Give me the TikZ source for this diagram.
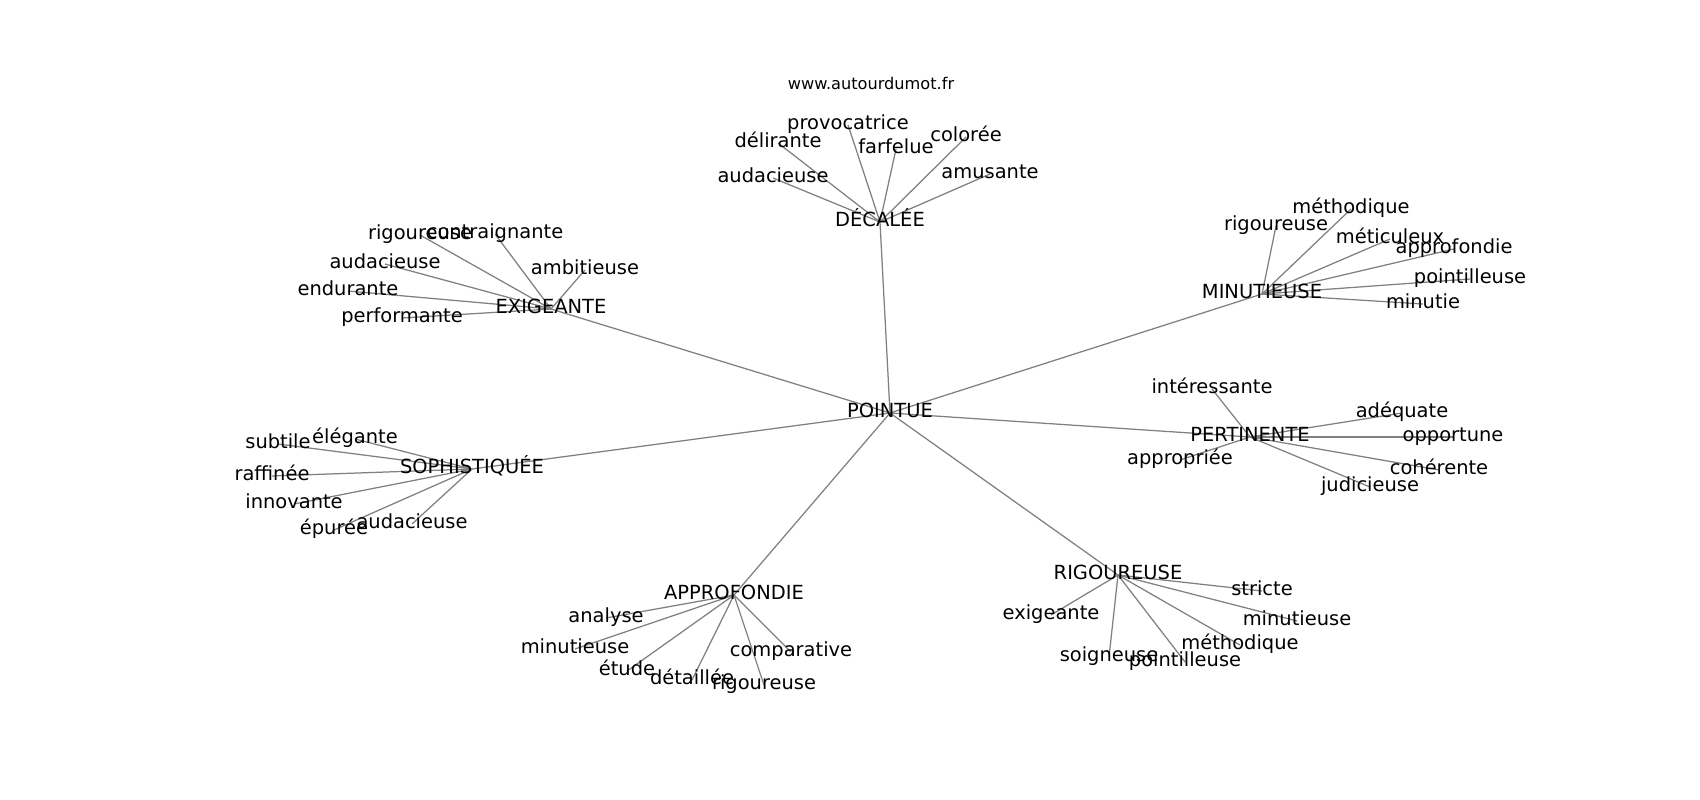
\documentclass[tikz,border=0pt]{standalone}
\usepackage{fontspec}
\setmainfont{DejaVu Sans}
\pgfdeclarelayer{bg}
\pgfdeclarelayer{edges}
\pgfsetlayers{bg,edges,main}
\tikzset{
  lab/.style={font=\fontsize{11.67}{14}\selectfont, inner sep=0pt, text height=0.76em, text depth=0.24em, anchor=center, text=black},
  small/.style={font=\fontsize{9.7}{12}\selectfont, inner sep=0pt, anchor=center, text=black},
  edge/.style={draw=black!50, line width=0.75pt}
}
\begin{document}
\begin{tikzpicture}[x=0.6pt,y=-0.6pt]
\begin{pgfonlayer}{bg}
\fill[white] (0,0) rectangle (1700,800);
\end{pgfonlayer}
\useasboundingbox (0,0) rectangle (1700,800);
\node[small] (w) at (871,83) {www.autourdumot.fr};
% hubs
\node[lab] (p) at (890,413) {POINTUE};
\node[lab] (d) at (880,222) {DÉCALÉE};
\node[lab] (e) at (551,309) {EXIGEANTE};
\node[lab] (m) at (1262,294) {MINUTIEUSE};
\node[lab] (pe) at (1250,437) {PERTINENTE};
\node[lab] (s) at (472,469) {SOPHISTIQUÉE};
\node[lab] (a) at (734,595) {APPROFONDIE};
\node[lab] (r) at (1118,575) {RIGOUREUSE};
% DÉCALÉE
\node[lab] (d1) at (848,125) {provocatrice};
\node[lab] (d2) at (778,143) {délirante};
\node[lab] (d3) at (896,149) {farfelue};
\node[lab] (d4) at (966,137) {colorée};
\node[lab] (d5) at (990,174) {amusante};
\node[lab] (d6) at (773,178) {audacieuse};
% EXIGEANTE
\node[lab] (e1) at (420,235) {rigoureuse};
\node[lab] (e2) at (495,234) {contraignante};
\node[lab] (e3) at (385,264) {audacieuse};
\node[lab] (e4) at (585,270) {ambitieuse};
\node[lab] (e5) at (348,291) {endurante};
\node[lab] (e6) at (402,318) {performante};
% MINUTIEUSE
\node[lab] (m1) at (1276,226) {rigoureuse};
\node[lab] (m2) at (1351,209) {méthodique};
\node[lab] (m3) at (1390,239) {méticuleux};
\node[lab] (m4) at (1454,249) {approfondie};
\node[lab] (m5) at (1470,279) {pointilleuse};
\node[lab] (m6) at (1423,304) {minutie};
% PERTINENTE
\node[lab] (pe1) at (1212,389) {intéressante};
\node[lab] (pe2) at (1402,413) {adéquate};
\node[lab] (pe3) at (1453,437) {opportune};
\node[lab] (pe4) at (1180,460) {appropriée};
\node[lab] (pe5) at (1439,470) {cohérente};
\node[lab] (pe6) at (1370,487) {judicieuse};
% SOPHISTIQUÉE
\node[lab] (s1) at (278,444) {subtile};
\node[lab] (s2) at (355,439) {élégante};
\node[lab] (s3) at (272,476) {raffinée};
\node[lab] (s4) at (294,504) {innovante};
\node[lab] (s5) at (334,530) {épurée};
\node[lab] (s6) at (412,524) {audacieuse};
% APPROFONDIE
\node[lab] (a1) at (606,618) {analyse};
\node[lab] (a2) at (575,649) {minutieuse};
\node[lab] (a3) at (627,671) {étude};
\node[lab] (a4) at (692,680) {détaillée};
\node[lab] (a5) at (791,652) {comparative};
\node[lab] (a6) at (764,685) {rigoureuse};
% RIGOUREUSE
\node[lab] (r1) at (1262,591) {stricte};
\node[lab] (r2) at (1051,615) {exigeante};
\node[lab] (r3) at (1297,621) {minutieuse};
\node[lab] (r4) at (1240,645) {méthodique};
\node[lab] (r5) at (1109,657) {soigneuse};
\node[lab] (r6) at (1185,662) {pointilleuse};
\begin{pgfonlayer}{edges}
\foreach \h in {d,e,m,pe,s,a,r} {\draw[edge] (p.center) -- (\h.center);}
\foreach \h in {d,e,m,pe,s,a,r} {
  \foreach \i in {1,...,6} {\draw[edge] (\h.center) -- (\h\i.center);}
}
\end{pgfonlayer}
\end{tikzpicture}
\end{document}
